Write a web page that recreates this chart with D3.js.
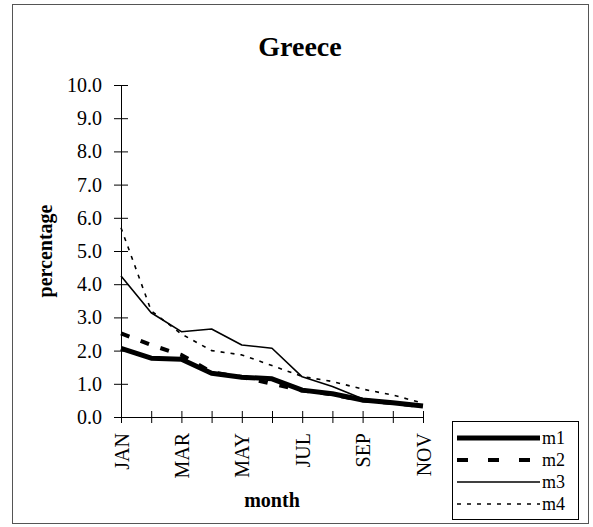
<!DOCTYPE html>
<html><head><meta charset="utf-8">
<script src="https://cdn.jsdelivr.net/npm/d3@7"></script>
<style>body{margin:0;background:#fff}svg{display:block}</style>
</head><body>
<script>
const months = ["JAN","FEB","MAR","APR","MAY","JUN","JUL","AUG","SEP","OCT","NOV"];
const monthTickLabels = ["JAN","MAR","MAY","JUL","SEP","NOV"];
const yTicks = [0,1,2,3,4,5,6,7,8,9,10];
const seriesNames = ["m1","m2","m3","m4"];
const m1 = [2.07,1.77,1.74,1.32,1.20,1.15,0.81,0.70,0.51,0.43,0.33];
const m2 = [2.52,2.17,1.87,1.35,1.20,1.00,0.80,0.68,0.50,0.42,0.32];
const m3 = [4.25,3.14,2.57,2.65,2.17,2.07,1.21,0.92,0.55,0.45,0.35];
const m4 = [5.70,3.20,2.50,2.00,1.87,1.55,1.22,1.07,0.84,0.66,0.42];

const W = 593, H = 527;
const font = "'Liberation Serif','Times New Roman',serif";
const svg = d3.select("body").append("svg").attr("width", W).attr("height", H);

// outer chart border
svg.append("rect").attr("x", 12.5).attr("y", 4.5).attr("width", 576).attr("height", 519)
  .attr("fill", "none").attr("stroke", "#555").attr("stroke-width", 1);

const x = d3.scalePoint().domain(months).range([121, 423]);
const y = d3.scaleLinear().domain([0, 10]).range([417, 85]);

// title
svg.append("text").attr("x", 300).attr("y", 56).attr("text-anchor", "middle")
  .attr("font-family", font).attr("font-weight", "bold").attr("font-size", 28).text("Greece");

// y axis
const gy = svg.append("g").attr("transform", `translate(${x(months[0])},0)`)
  .call(d3.axisLeft(y).tickValues(yTicks).tickSize(7).tickSizeOuter(0).tickPadding(12)
    .tickFormat(d3.format(".1f")));
gy.selectAll(".tick line").attr("x1", 7).attr("x2", -7).attr("stroke", "#000");
gy.select(".domain").attr("stroke", "#000");
gy.selectAll("text").attr("font-family", font).attr("font-size", 20).attr("fill", "#000");

// x axis
const gx = svg.append("g").attr("transform", `translate(0,${y(0)})`)
  .call(d3.axisBottom(x).tickSize(6).tickSizeOuter(0)
    .tickFormat(d => monthTickLabels.includes(d) ? d : ""));
gx.selectAll(".tick line").attr("y1", -6).attr("y2", 6).attr("stroke", "#000");
gx.select(".domain").attr("stroke", "#000");
gx.selectAll("text").attr("font-family", font).attr("font-size", 20).attr("fill", "#000")
  .attr("transform", "rotate(-90)").attr("text-anchor", "end")
  .attr("x", -16).attr("y", 0).attr("dy", "0.35em");

// axis titles
svg.append("text").attr("transform", `translate(52,${(y(0)+y(10))/2}) rotate(-90)`)
  .attr("text-anchor", "middle").attr("font-family", font).attr("font-weight", "bold")
  .attr("font-size", 20).text("percentage");
svg.append("text").attr("x", (x.range()[0] + x.range()[1]) / 2).attr("y", 507)
  .attr("text-anchor", "middle").attr("font-family", font).attr("font-weight", "bold")
  .attr("font-size", 20).text("month");

const styles = {
  m1: {w: 5, dash: null},
  m2: {w: 4, dash: "9,12"},
  m3: {w: 1.6, dash: null},
  m4: {w: 1.6, dash: "4,6"}
};
const data = {m1, m2, m3, m4};
const line = d3.line().x((d, i) => x(months[i])).y(d => y(d));

seriesNames.slice().reverse().forEach(n => {
  svg.append("path").datum(data[n]).attr("d", line).attr("fill", "none")
    .attr("stroke", "#000").attr("stroke-width", styles[n].w)
    .attr("stroke-dasharray", styles[n].dash).attr("stroke-linejoin", "round");
});

// legend
const lg = svg.append("g");
lg.append("rect").attr("x", 452.5).attr("y", 421.5).attr("width", 126).attr("height", 98)
  .attr("fill", "#fff").attr("stroke", "#000").attr("stroke-width", 1);
seriesNames.forEach((n, i) => {
  const yy = 438 + i * 22;
  lg.append("line").attr("x1", 457).attr("x2", 540).attr("y1", yy).attr("y2", yy)
    .attr("stroke", "#000").attr("stroke-width", styles[n].w)
    .attr("stroke-dasharray", n === "m2" ? "11,20" : styles[n].dash);
  lg.append("text").attr("x", 542).attr("y", yy).attr("dy", "0.35em")
    .attr("font-family", font).attr("font-size", 18).text(n);
});
</script>
</body></html>
